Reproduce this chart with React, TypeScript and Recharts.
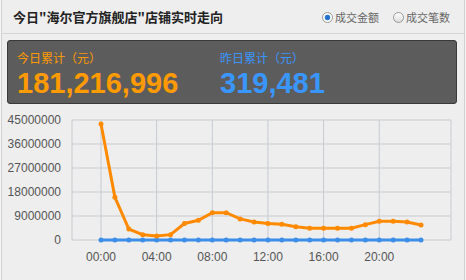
import { LineChart, Line, XAxis, YAxis, CartesianGrid } from 'recharts';

const hours = ['00:00', '01:00', '02:00', '03:00', '04:00', '05:00', '06:00', '07:00', '08:00', '09:00', '10:00', '11:00',
  '12:00', '13:00', '14:00', '15:00', '16:00', '17:00', '18:00', '19:00', '20:00', '21:00', '22:00', '23:00'];
const today = [43500000, 16000000, 4100000, 2000000, 1500000, 2000000, 6200000, 7400000, 10250000, 10250000, 7900000, 6750000,
  6200000, 5900000, 5000000, 4400000, 4400000, 4400000, 4400000, 5750000, 7000000, 7000000, 6750000, 5600000];
const yesterday = [21000, 14500, 9200, 5800, 4100, 3900, 6200, 9800, 13600, 16900, 17400, 16200,
  15100, 14800, 13900, 13200, 13600, 14300, 15800, 17500, 18900, 19600, 16800, 13300];
const yTicks = [0, 9000000, 18000000, 27000000, 36000000, 45000000];
const xTicks = [0, 4, 8, 12, 16, 20];

const data = hours.map((h, i) => ({ h: i, label: h, today: today[i], yesterday: yesterday[i] }));

const GRID = '#c6cad0';
const PAD_L = 29;
const PAD_R = 30;
const CJK = '"Noto Sans CJK SC", sans-serif';
const LATIN = '"Liberation Sans", Arial, sans-serif';
const tickStyle = { fontSize: 12, fill: '#555', fontFamily: LATIN };

function Radio({ on }: { on: boolean }) {
  return (
    <span style={{
      display: 'inline-block', width: 11, height: 11, borderRadius: '50%', boxSizing: 'border-box',
      border: '1px solid #999', background: on ? 'radial-gradient(#1a66c8 0, #2f80d8 2.5px, #fff 3.2px)' : 'linear-gradient(#fff, #ddd)',
      verticalAlign: -1, marginRight: 2,
    }} />
  );
}

// grid lines at the hour ticks plus the left/right edges of the plot box
const gridX = ({ xAxis, offset }: any) => {
  const scale = xAxis && typeof xAxis.scale === 'function'
    ? xAxis.scale
    : (t: number) => offset.left + PAD_L + (t * (offset.width - PAD_L - PAD_R)) / 23;
  return [offset.left, ...xTicks.map((t) => scale(t)), offset.left + offset.width];
};

export default function App() {
  return (
    <div style={{ position: 'absolute', left: 0, top: 0, width: 466, height: 280, background: '#f6f6f6', overflow: 'hidden' }}>
      <div style={{
        position: 'absolute', left: 1, top: 0, width: 462, height: 280, background: '#eeeeee',
        borderLeft: '1px solid #d0d0d0', borderRight: '1px solid #d0d0d0',
      }} />
      {/* header */}
      <div style={{
        position: 'absolute', left: 13, top: 7, fontSize: 13, fontWeight: 'bold', color: '#222',
        fontFamily: CJK, lineHeight: '20px',
      }}>今日"海尔官方旗舰店"店铺实时走向</div>
      <div style={{
        position: 'absolute', left: 322, top: 9, fontSize: 11, color: '#666',
        fontFamily: CJK, lineHeight: '16px', whiteSpace: 'nowrap',
      }}>
        <Radio on />成交金额<span style={{ display: 'inline-block', width: 14 }} /><Radio on={false} />成交笔数
      </div>
      <div style={{ position: 'absolute', left: 2, top: 33, width: 462, height: 1, background: '#d6d6d6' }} />
      {/* summary panel */}
      <div style={{
        position: 'absolute', left: 7, top: 40, width: 450, height: 64, boxSizing: 'border-box', borderRadius: 3,
        border: '1px solid #3a3a3a', backgroundColor: '#444',
        backgroundImage: 'radial-gradient(#5e5e5e 0.7px, transparent 0.8px)', backgroundSize: '2px 2px',
      }}>
        <div style={{ position: 'absolute', left: 9, top: 10, fontSize: 12, color: '#ff9a00', fontFamily: CJK, lineHeight: '14px' }}>今日累计（元）</div>
        <div style={{ position: 'absolute', left: 9, top: 28, fontSize: 29, fontWeight: 'bold', color: '#ff9a00', fontFamily: LATIN, lineHeight: '29px' }}>181,216,996</div>
        <div style={{ position: 'absolute', left: 212, top: 10, fontSize: 12, color: '#3a96ff', fontFamily: CJK, lineHeight: '14px' }}>昨日累计（元）</div>
        <div style={{ position: 'absolute', left: 212, top: 28, fontSize: 29, fontWeight: 'bold', color: '#3a96ff', fontFamily: LATIN, lineHeight: '29px' }}>319,481</div>
      </div>
      {/* chart */}
      <div style={{ position: 'absolute', left: 0, top: 108 }}>
        <LineChart width={466} height={172} data={data} margin={{ top: 12, right: 15, bottom: 10, left: 0 }}>
          <CartesianGrid stroke={GRID} verticalCoordinatesGenerator={gridX} />
          <XAxis
            dataKey="h"
            type="number"
            domain={[0, 23]}
            ticks={xTicks}
            tickFormatter={(v: number) => hours[v]}
            padding={{ left: PAD_L, right: PAD_R }}
            axisLine={false}
            tickLine={false}
            tickSize={0}
            tickMargin={12}
            height={30}
            tick={tickStyle}
          />
          <YAxis
            domain={[0, 45000000]}
            ticks={yTicks}
            width={72}
            axisLine={false}
            tickLine={false}
            tickSize={0}
            tickMargin={11}
            tick={tickStyle}
          />
          <Line dataKey="yesterday" stroke="#3d8ee8" strokeWidth={3} dot={{ r: 2.5, fill: '#3d8ee8', strokeWidth: 0 }} isAnimationActive={false} />
          <Line dataKey="today" stroke="#ff8a00" strokeWidth={3} dot={{ r: 2.5, fill: '#ff8a00', strokeWidth: 0 }} isAnimationActive={false} />
        </LineChart>
      </div>
    </div>
  );
}
